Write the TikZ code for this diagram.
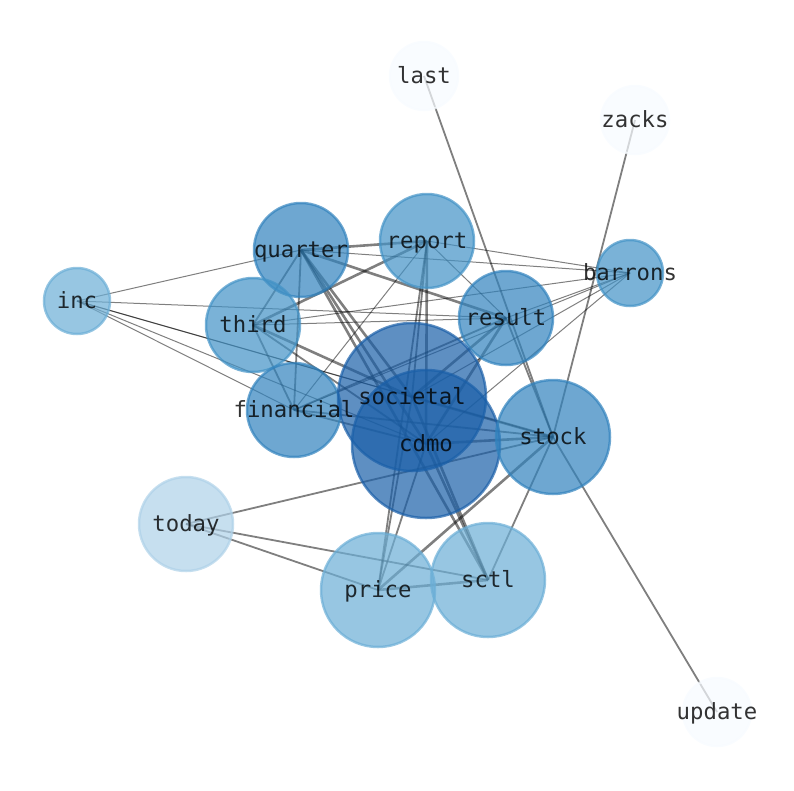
\documentclass[tikz,border=0pt]{standalone}
\usepackage{fontspec}
\setmonofont{DejaVu Sans Mono}
\usetikzlibrary{backgrounds}
\definecolor{cA}{HTML}{1A5FA8}
\definecolor{cB}{HTML}{3182BD}
\definecolor{cC}{HTML}{4292C6}
\definecolor{cD}{HTML}{6BAED6}
\definecolor{cE}{HTML}{AED1E8}
\definecolor{cF}{HTML}{F7FBFF}
\tikzset{
  vtx/.style={circle, inner sep=0pt, fill opacity=0.7, draw opacity=0.7, line width=2.5pt},
  lbl/.style={font=\ttfamily\fontsize{22.3}{25}\selectfont, text=black, text opacity=0.8, inner sep=0pt, text height=0.76em, text depth=0.24em, yshift=-5pt},
  ethin/.style={draw=black, draw opacity=0.5, line width=1pt},
  emed/.style={draw=black, draw opacity=0.5, line width=1.8pt},
  ethick/.style={draw=black, draw opacity=0.5, line width=2.6pt},
}
\begin{document}
\begin{tikzpicture}[x=1pt,y=-1pt]
\useasboundingbox (0,0) rectangle (794,790);
% nodes (circles)
\node[vtx, fill=cF, draw=cF, minimum size=68pt] (last) at (424,76) {};
\node[vtx, fill=cF, draw=cF, minimum size=68pt] (zacks) at (635,120) {};
\node[vtx, fill=cF, draw=cF, minimum size=68pt] (update) at (717,712) {};
\node[vtx, fill=cC, draw=cC, minimum size=66pt] (barrons) at (630,273) {};
\node[vtx, fill=cD, draw=cD, minimum size=66pt] (inc) at (77,301) {};
\node[vtx, fill=cB, draw=cB, minimum size=94pt] (quarter) at (301,250) {};
\node[vtx, fill=cC, draw=cC, minimum size=94pt] (report) at (427,241) {};
\node[vtx, fill=cC, draw=cC, minimum size=94pt] (third) at (253,325) {};
\node[vtx, fill=cB, draw=cB, minimum size=94pt] (result) at (506,318) {};
\node[vtx, fill=cB, draw=cB, minimum size=94pt] (financial) at (294,410) {};
\node[vtx, fill=cA, draw=cA, minimum size=148pt] (societal) at (412,397) {};
\node[vtx, fill=cA, draw=cA, minimum size=148pt] (cdmo) at (426,444) {};
\node[vtx, fill=cB, draw=cB, minimum size=114pt] (stock) at (553,437) {};
\node[vtx, fill=cE, draw=cE, minimum size=94pt] (today) at (186,524) {};
\node[vtx, fill=cD, draw=cD, minimum size=114pt] (price) at (378,590) {};
\node[vtx, fill=cD, draw=cD, minimum size=114pt] (sctl) at (488,580) {};
% edges behind nodes
\begin{scope}[on background layer]
\foreach \a/\b in {inc/quarter, inc/result, inc/societal, inc/cdmo, inc/financial, inc/stock,
  barrons/quarter, barrons/report, barrons/third, barrons/result, barrons/financial, barrons/societal, barrons/cdmo,
  report/financial, report/result, third/result}
  \draw[ethin] (\a.center) -- (\b.center);
\foreach \a/\b in {last/stock, zacks/stock, update/stock, quarter/third, quarter/financial, third/financial,
  third/cdmo, report/price, report/societal, result/financial, financial/cdmo, societal/price, cdmo/price,
  stock/sctl, today/stock, today/price, today/sctl, financial/stock, result/stock}
  \draw[emed] (\a.center) -- (\b.center);
\foreach \a/\b in {quarter/report, quarter/result, quarter/societal, quarter/cdmo, quarter/sctl, report/third,
  report/cdmo, third/societal, result/cdmo, result/societal, societal/stock, cdmo/stock, cdmo/sctl,
  societal/sctl, stock/price, price/sctl}
  \draw[ethick] (\a.center) -- (\b.center);
\end{scope}
% labels
\foreach \n in {last, zacks, update, barrons, inc, quarter, report, third, result, financial, societal, cdmo, stock, today, price, sctl}
  \node[lbl] at (\n.center) {\n};
\end{tikzpicture}
\end{document}
